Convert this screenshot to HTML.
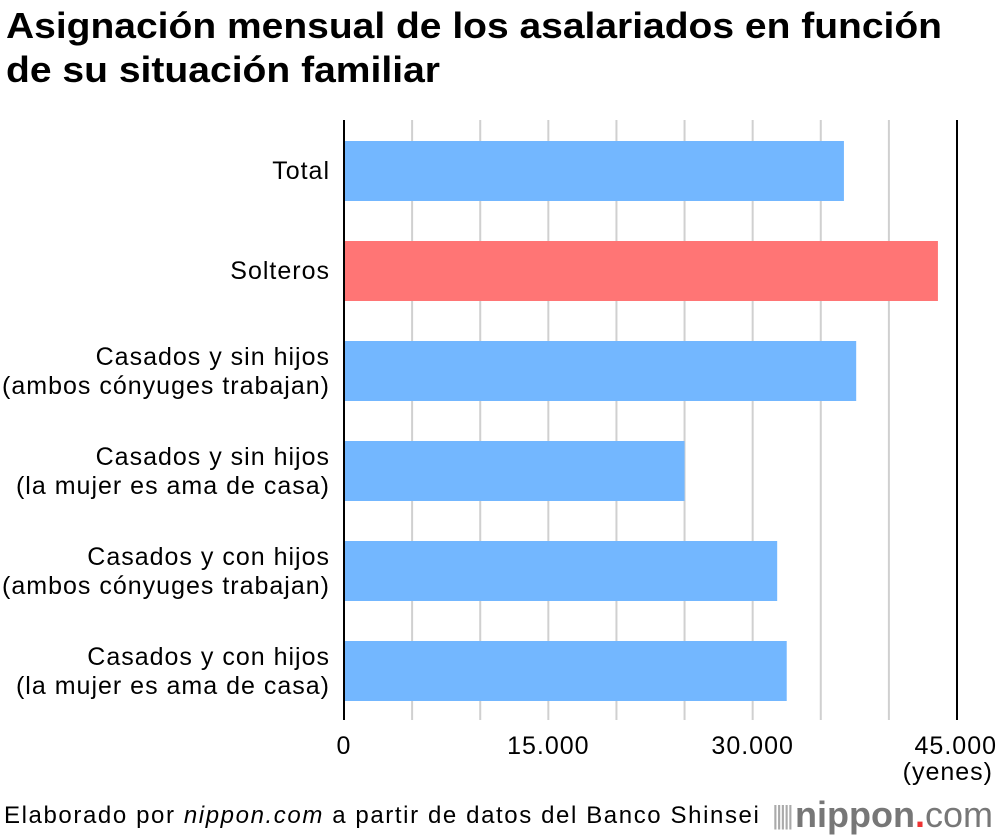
<!DOCTYPE html>
<html><head><meta charset="utf-8"><style>
body{margin:0;width:1000px;height:840px;background:#fff;font-family:"Liberation Sans",sans-serif;overflow:hidden}
</style></head><body>
<svg id="c" width="1000" height="840" style="position:absolute;left:0;top:0">
<text x="6" y="38" font-size="36" font-weight="bold" textLength="936" lengthAdjust="spacingAndGlyphs">Asignación mensual de los asalariados en función</text>
<text x="6" y="82" font-size="36" font-weight="bold" textLength="434" lengthAdjust="spacingAndGlyphs">de su situación familiar</text>
</svg>
<script>
const categories=[["Total"],["Solteros"],["Casados y sin hijos","(ambos cónyuges trabajan)"],["Casados y sin hijos","(la mujer es ama de casa)"],["Casados y con hijos","(ambos cónyuges trabajan)"],["Casados y con hijos","(la mujer es ama de casa)"]];
const values=[36700,43600,37600,25000,31800,32500];
const highlight=[false,true,false,false,false,false];
const ticks=[0,15000,30000,45000];
const tickLabels=["0","15.000","30.000","45.000"];
const gridStep=5000;
const NS="http://www.w3.org/2000/svg";
const svg=document.getElementById('c');
const x0=344,x1=957,yTop=120,yBot=720;
const xs=v=>x0+(v/45000)*(x1-x0);
const bandY=i=>141+i*100;
function el(t,a,txt){const e=document.createElementNS(NS,t);for(const k in a)e.setAttribute(k,a[k]);if(txt!=null)e.textContent=txt;svg.appendChild(e);return e;}
for(let v=gridStep;v<45000;v+=gridStep){
  const g=el('line',{x1:xs(v),x2:xs(v),y1:yTop,y2:yBot,stroke:'#d0d0d0','stroke-width':2});
  
  
}
const r=el('line',{x1:x1,x2:x1,y1:yTop,y2:yBot,stroke:'#000','stroke-width':2});


values.forEach((v,i)=>{
  const b=el('rect',{x:x0,y:bandY(i),width:xs(v)-x0,height:60,fill:highlight[i]?'#ff7575':'#73b7ff'});
  
  
  const lines=categories[i];
  lines.forEach((l,j)=>{
    const cy=bandY(i)+30+(lines.length===1?0:(j===0?-14:15))+8;
    const t=el('text',{x:330,y:cy,'text-anchor':'end','font-size':25,'letter-spacing':1,fill:'#000'},l);
    
    
  });
});
const ax=el('line',{x1:x0,x2:x0,y1:yTop,y2:yBot,stroke:'#000','stroke-width':2});


ticks.forEach((v,i)=>{
  const t=el('text',{x:i===ticks.length-1?997:xs(v),y:754,'text-anchor':i===ticks.length-1?'end':'middle','font-size':25,'letter-spacing':1,fill:'#000'},tickLabels[i]);
  
  
});
const u=el('text',{x:993,y:780,'text-anchor':'end','font-size':25,'letter-spacing':1,fill:'#000'},'(yenes)');


</script>
<div style="position:absolute;left:4px;top:802px;font-size:24px;letter-spacing:1.6px;color:#000;white-space:nowrap">Elaborado por <i>nippon.com</i> a partir de datos del Banco Shinsei</div>
<div style="position:absolute;left:772px;top:794px;font-size:36px;color:#777;font-weight:bold;white-space:nowrap"><span style="font-weight:normal;font-size:26px;letter-spacing:-3px;color:#aaa;vertical-align:3px">||||| </span>nippon<span style="color:#e33">.</span><span style="font-weight:normal">com</span></div>
</body></html>
